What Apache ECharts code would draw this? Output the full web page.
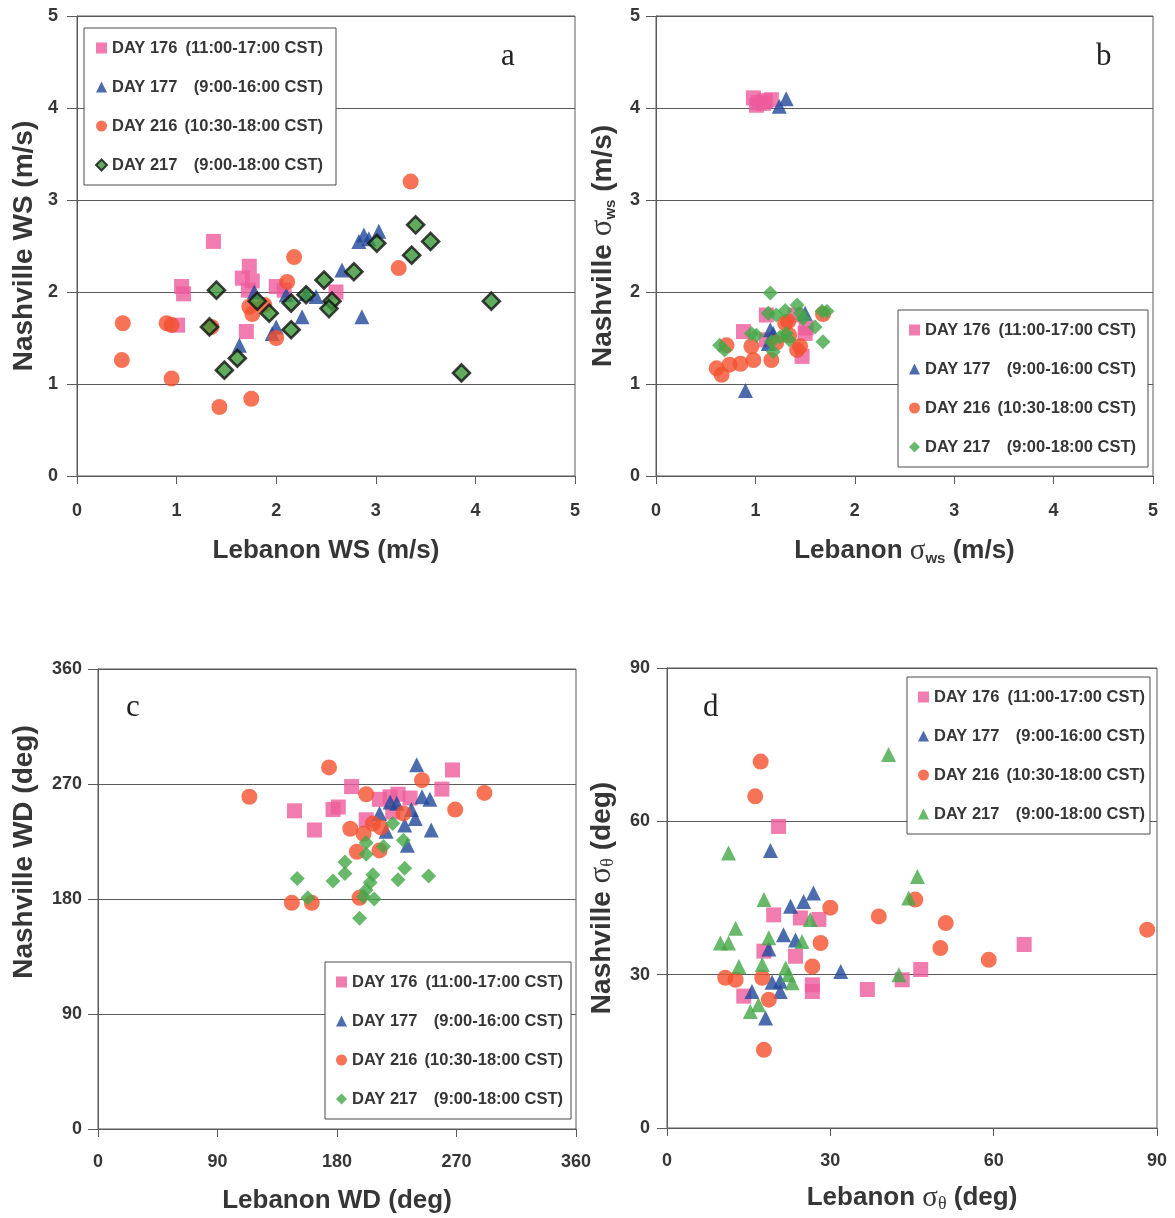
<!DOCTYPE html>
<html>
<head>
<meta charset="utf-8">
<script src="https://cdn.jsdelivr.net/npm/echarts@6/dist/echarts.min.js"></script>
<style>
html,body{margin:0;padding:0;background:#fff;}
#chart{width:1175px;height:1218px;}
</style>
</head>
<body>
<div id="chart"></div>
<script>
// ---------- DATA (Lebanon value, Nashville value) ----------
// Panel a: wind speed (m/s)
const a176 = [[1.37,2.55],[1.05,2.06],[1.07,1.98],[1.01,1.64],[1.66,2.15],[1.73,2.28],[1.76,2.12],[1.72,2.02],[1.70,1.57],[2.00,2.06],[2.08,2.02],[2.60,2.00]];
const a177 = [[2.83,2.55],[2.88,2.62],[2.93,2.58],[3.03,2.66],[2.66,2.24],[2.40,1.95],[2.30,1.98],[2.26,1.73],[2.86,1.73],[2.00,1.62],[1.96,1.55],[1.63,1.42],[2.10,1.97],[1.78,2.00]];
const a216 = [[3.35,3.20],[2.18,2.38],[3.23,2.26],[2.11,2.11],[0.46,1.66],[0.90,1.66],[0.95,1.64],[0.45,1.26],[0.95,1.06],[1.43,0.75],[1.75,0.84],[2.00,1.50],[1.73,1.84],[1.76,1.76],[1.88,1.86],[1.35,1.62]];
const a217 = [[3.40,2.73],[3.55,2.55],[3.36,2.40],[3.01,2.53],[2.78,2.22],[2.48,2.13],[2.30,1.97],[2.15,1.88],[2.56,1.90],[2.53,1.82],[1.81,1.90],[1.93,1.77],[2.15,1.59],[1.40,2.02],[1.33,1.62],[1.61,1.28],[1.48,1.15],[4.16,1.90],[3.86,1.12]];
// Panel b: sigma ws (m/s)
const b176 = [[0.98,4.11],[1.03,4.06],[1.10,4.08],[1.16,4.09],[1.01,4.03],[1.08,4.05],[0.88,1.57],[1.11,1.75],[1.50,1.55],[1.47,1.30],[1.11,1.48],[1.40,1.75],[1.51,1.61]];
const b177 = [[1.31,4.10],[1.24,4.02],[0.90,0.93],[1.15,1.59],[1.13,1.44],[1.50,1.77],[1.18,1.55]];
const b216 = [[0.61,1.17],[0.66,1.10],[0.74,1.21],[0.85,1.22],[0.98,1.26],[0.96,1.41],[1.16,1.26],[1.30,1.66],[1.33,1.68],[1.45,1.41],[1.42,1.37],[1.21,1.45],[1.68,1.76],[0.71,1.42],[1.34,1.53]];
const b217 = [[1.15,1.99],[0.64,1.42],[0.69,1.37],[0.96,1.55],[1.01,1.53],[1.13,1.77],[1.21,1.75],[1.30,1.80],[1.42,1.86],[1.45,1.77],[1.48,1.71],[1.60,1.62],[1.67,1.79],[1.72,1.79],[1.68,1.46],[1.25,1.51],[1.31,1.55],[1.18,1.35],[1.16,1.46],[1.34,1.48]];
// Panel c: wind direction (deg)
const c176 = [[267,281],[259,266],[191,268],[148,249],[177,250],[181,252],[163,234],[202,242],[220,260],[226,262],[235,259],[222,248],[212,258]];
const c177 = [[240,285],[244,260],[250,258],[220,256],[225,255],[212,247],[236,250],[239,243],[231,238],[251,234],[217,233],[233,222]];
const c216 = [[114,260],[174,283],[202,262],[244,273],[291,263],[269,250],[190,235],[230,247],[200,231],[207,239],[213,236],[195,217],[212,218],[146,177],[161,177],[197,181]];
const c217 = [[150,196],[158,181],[177,194],[186,209],[186,200],[202,224],[202,215],[215,221],[222,239],[230,226],[231,204],[226,195],[249,198],[207,199],[205,193],[202,187],[200,182],[197,165],[208,180]];
// Panel d: sigma theta (deg)
const d176 = [[20.5,59.0],[19.6,41.7],[24.5,41.1],[27.9,40.8],[17.8,34.6],[23.6,33.6],[26.7,28.0],[26.7,26.7],[14.1,25.8],[36.8,27.1],[43.2,29.0],[46.6,31.0],[65.6,35.9]];
const d177 = [[19.0,54.3],[26.9,46.0],[25.1,44.3],[22.7,43.4],[21.4,37.8],[23.6,36.8],[18.7,35.0],[31.9,30.6],[19.3,28.5],[20.8,28.7],[20.8,26.7],[15.6,26.7],[18.1,21.5]];
const d216 = [[17.2,71.7],[16.2,64.9],[30.0,43.1],[38.9,41.4],[45.6,44.7],[51.2,40.1],[50.2,35.2],[59.1,32.9],[88.2,38.8],[28.2,36.2],[26.7,31.6],[10.7,29.4],[12.6,29.0],[17.5,29.4],[18.7,25.1],[17.8,15.3]];
const d217 = [[11.3,53.8],[17.8,44.7],[12.6,39.1],[9.8,36.2],[11.3,36.2],[18.7,37.2],[24.8,36.5],[26.3,40.8],[13.2,31.6],[17.5,32.0],[21.8,31.3],[22.3,30.0],[23.0,28.4],[15.3,22.8],[16.8,24.1],[40.7,73.1],[46.0,49.2],[44.4,45.0],[42.6,30.0]];

// legend texts
const dayNames = ['DAY 176','DAY 177','DAY 216','DAY 217'];
const dayTimes = ['(11:00-17:00 CST)','(9:00-16:00 CST)','(10:30-18:00 CST)','(9:00-18:00 CST)'];
const dayKeys = ['176','177','216','217'];

// axis ranges / intervals
const panelLetters = ['a','b','c','d'];
const xMax = [5, 5, 360, 90];
const yMax = [5, 5, 360, 90];
const step = [1, 1, 90, 30];

// ---------- STYLE ----------
const SANS = '"Liberation Sans", Arial, sans-serif';
const SERIF = '"Liberation Serif", "Times New Roman", serif';
const TXT = '#363636';
const LINE = '#5a5a5a';
const PINK = '#ee5b9c', BLUE = '#21479a', RED = '#f4502e', GREEN = '#44a847';

const grids = [
  {left:77, top:16, width:498, height:460},
  {left:656, top:16, width:497, height:460},
  {left:98, top:669, width:478, height:460},
  {left:667, top:668, width:490, height:460}
];
const legendPos = [
  {left:84, top:28},
  {left:898, top:310},
  {left:325, top:962},
  {left:907, top:677}
];
const legendPadRight = [13, 12, 8, 5];
const xNames = [
  '{n|Lebanon WS (m/s)}',
  '{n|Lebanon }{g|σ}{s|ws}{n| (m/s)}',
  '{n|Lebanon WD (deg)}',
  '{n|Lebanon }{g|σ}{t|θ}{n| (deg)}'
];
const yNames = [
  '{n|Nashville WS (m/s)}',
  '{n|Nashville }{g|σ}{s|ws}{n| (m/s)}',
  '{n|Nashville WD (deg)}',
  '{n|Nashville }{g|σ}{t|θ}{n| (deg)}'
];
const xGap = [60, 60, 57, 55];
const yGap = [38, 38, 59, 50];
const xMargin = [26, 26, 24, 24];
const yMargin = [19, 16, 16, 17];

function nameRich(size){
  return {
    n:{fontFamily:SANS, fontWeight:'bold', fontSize:size, color:TXT, lineHeight:30},
    g:{fontFamily:SERIF, fontSize:size+3, color:TXT, lineHeight:30},
    s:{fontFamily:SANS, fontWeight:'bold', fontSize:15, color:TXT, lineHeight:8, verticalAlign:'bottom'},
    t:{fontFamily:SERIF, fontSize:18, color:TXT, lineHeight:8, verticalAlign:'bottom'}
  };
}

const panelData = [
  [a176,a177,a216,a217],
  [b176,b177,b216,b217],
  [c176,c177,c216,c217],
  [d176,d177,d216,d217]
];

function seriesStyle(p, k){
  if (k === 0) return {symbol:'rect', symbolSize:15, itemStyle:{color:PINK}};
  if (k === 1) return {symbol:'triangle', symbolSize:15, itemStyle:{color:BLUE}};
  if (k === 2) return {symbol:'circle', symbolSize:16, itemStyle:{color:RED}};
  if (p === 0) return {symbol:'diamond', symbolSize:17, itemStyle:{color:'#3a9636', borderColor:'#121212', borderWidth:2.6}};
  if (p === 3) return {symbol:'triangle', symbolSize:15, itemStyle:{color:GREEN}};
  return {symbol:'diamond', symbolSize:15, itemStyle:{color:GREEN}};
}

const xAxes = [], yAxes = [], series = [], legends = [], graphics = [];
for (let p = 0; p < 4; p++) {
  xAxes.push({
    type:'value', gridIndex:p, min:0, max:xMax[p], interval:step[p],
    name:xNames[p], nameLocation:'middle', nameGap:xGap[p], nameMoveOverlap:false,
    nameTextStyle:{rich:nameRich(26)},
    axisLine:{show:true, onZero:false, lineStyle:{color:LINE, width:1}},
    axisTick:{show:true, inside:false, length:8, lineStyle:{color:LINE}},
    axisLabel:{margin:xMargin[p], fontFamily:SANS, fontWeight:'bold', fontSize:18, color:TXT},
    splitLine:{show:false}
  });
  yAxes.push({
    type:'value', gridIndex:p, min:0, max:yMax[p], interval:step[p],
    name:yNames[p], nameLocation:'middle', nameGap:yGap[p], nameRotate:90, nameMoveOverlap:false,
    nameTextStyle:{rich:nameRich(28), padding: p === 2 ? [0,0,0,94] : 0},
    axisLine:{show:true, onZero:false, lineStyle:{color:LINE, width:1}},
    axisTick:{show:true, inside:false, length:10, lineStyle:{color:LINE}},
    axisLabel:{margin:yMargin[p], fontFamily:SANS, fontWeight:'bold', fontSize:18, color:TXT},
    splitLine:{show:true, lineStyle:{color:LINE, width:1}}
  });
  const names = [];
  for (let k = 0; k < 4; k++) {
    const nm = panelLetters[p] + dayKeys[k];
    names.push(nm);
    series.push(Object.assign({
      type:'scatter', name:nm, xAxisIndex:p, yAxisIndex:p,
      data:panelData[p][k], clip:false, animation:false
    }, seriesStyle(p,k)));
  }
  legends.push({
    data:names, orient:'vertical', left:legendPos[p].left, top:legendPos[p].top,
    selectedMode:false, backgroundColor:'#fff', borderColor:'#4a4a4a', borderWidth:1,
    padding:[11,legendPadRight[p],11,11], itemWidth:11, itemHeight:11, itemGap:21, itemTextGap:4,
    formatter:function(name){
      const k = dayKeys.indexOf(name.slice(1));
      return '{d|' + dayNames[k] + '}{t|' + dayTimes[k] + '}';
    },
    textStyle:{
      fontFamily:SANS, fontWeight:'bold', fontSize:16.5, color:TXT, lineHeight:18,
      rich:{
        d:{fontFamily:SANS, fontWeight:'bold', fontSize:16.5, color:TXT, width:69, lineHeight:18},
        t:{fontFamily:SANS, fontWeight:'bold', fontSize:16.5, color:TXT, width:142, align:'right', lineHeight:18}
      }
    }
  });
}

const letterPos = [[501,57],[1096,57],[126,708],[703,708]];
for (let p = 0; p < 4; p++) {
  graphics.push({
    type:'text', x:letterPos[p][0], y:letterPos[p][1], silent:true,
    style:{text:panelLetters[p], font:'31px ' + SERIF, fill:'#222', textVerticalAlign:'middle', verticalAlign:'middle'}
  });
}

const chart = echarts.init(document.getElementById('chart'), null, {renderer:'canvas'});
chart.setOption({
  backgroundColor:'#ffffff',
  animation:false,
  grid:grids.map(g => Object.assign({show:true, borderColor:LINE, borderWidth:1, backgroundColor:'transparent', containLabel:false, outerBoundsMode:'none'}, g)),
  xAxis:xAxes,
  yAxis:yAxes,
  legend:legends,
  series:series,
  graphic:graphics
});
</script>
</body>
</html>
